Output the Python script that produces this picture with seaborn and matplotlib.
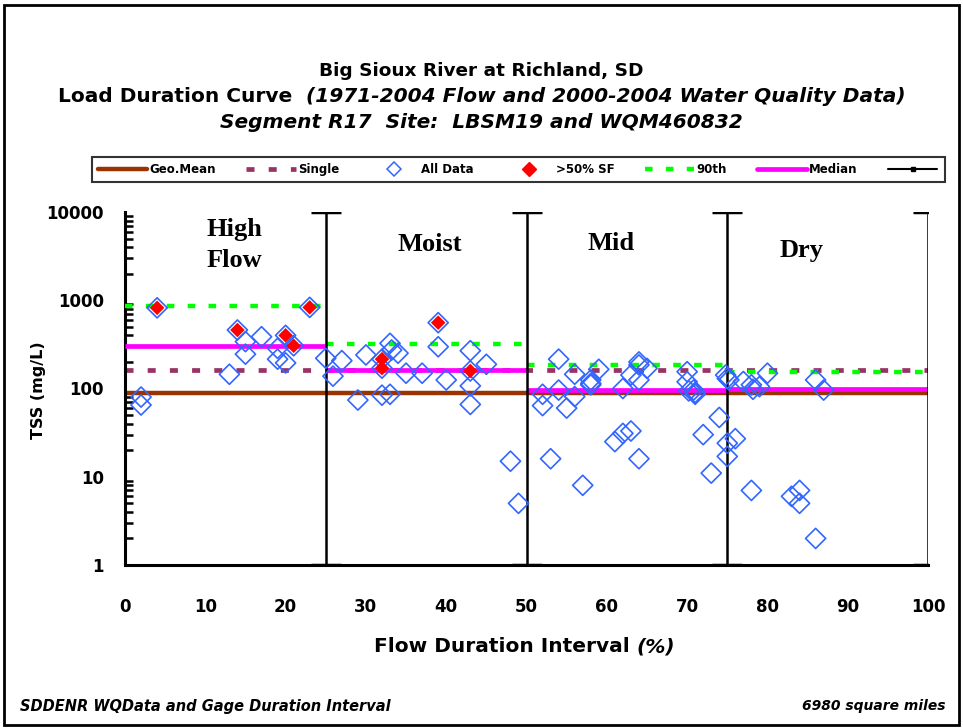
import numpy as np
import pandas as pd
import seaborn as sns
import matplotlib.pyplot as plt
from matplotlib.lines import Line2D
from matplotlib.patches import Rectangle
from matplotlib.ticker import LogLocator, NullFormatter, FixedFormatter, FixedLocator

# --- Data ---
all_x = [2, 2, 4, 13, 14, 15, 15, 17, 19, 19, 20, 20, 21, 23, 25, 25.9, 27, 29, 30,
         32, 32, 32, 33, 33, 33.2, 34, 35, 37, 39, 39, 40, 43, 43, 43, 43, 45, 48, 49,
         52, 52, 53, 54, 54, 55, 56, 56, 57, 58, 58, 58, 59, 61, 62, 62, 63, 63, 64, 64,
         64, 64, 65, 70, 70, 70.2, 70.8, 71, 71, 72, 73, 74, 74.8, 75, 75, 75, 75.2, 76, 77,
         78, 78, 78.2, 79, 80, 83, 84, 84, 86, 86, 87]
all_y = [80, 65, 820, 145, 460, 340, 245, 386, 215, 285, 400, 195, 305, 830, 220, 138, 207, 74, 240,
         215, 170, 84, 325, 86, 273, 251, 149, 149, 557, 297, 125, 268, 158, 107, 66, 188, 15, 5,
         86, 64, 16, 215, 96, 60, 81, 145, 8, 110, 114, 125, 165, 25, 100, 31, 33, 142, 200, 16,
         185, 125, 169, 155, 119, 94, 96, 86, 90, 30, 11, 47, 142, 130, 24, 17, 125, 27, 120,
         7, 110, 98, 105, 149, 6, 7, 5, 2, 125, 96]
sf_x = [4, 14, 20, 21, 23, 32, 32, 39, 43]
sf_y = [820, 460, 400, 305, 830, 215, 170, 557, 158]

edges = [0, 25, 50, 75, 100]
p90 = [860, 318, 185, 153]
median = [300, 162, 95, 99]
geo_mean = 88
single = 162
regimes = ["High\nFlow", "Moist", "Mid", "Dry"]
regime_x = [13.6, 38.0, 60.5, 84.2]
regime_y = [4230, 4230, 4340, 3700]

xticks = [0, 10, 20, 30, 40, 50, 60, 70, 80, 90, 100]
yticks = [1, 10, 100, 1000, 10000]

BROWN = "#993300"
PURPLE = "#993366"
BLUE = "#3366FF"
GREEN = "#00FF00"
MAGENTA = "#FF00FF"

sns.set_style("white")
plt.rcParams["font.family"] = ["DejaVu Sans"]
plt.rcParams["font.weight"] = "bold"
plt.rcParams["text.color"] = "black"
plt.rcParams["axes.labelcolor"] = "black"
plt.rcParams["xtick.color"] = "black"
plt.rcParams["ytick.color"] = "black"

fig = plt.figure(figsize=(9.63, 7.28), dpi=100)
ax = fig.add_axes([0.1298, 0.2239, 0.8339, 0.4849])

df_all = pd.DataFrame({"x": all_x, "y": all_y})
df_sf = pd.DataFrame({"x": sf_x, "y": sf_y})

# horizontal reference lines
ax.hlines(geo_mean, 0, 100, color=BROWN, lw=3.2, zorder=2)
ax.hlines(single, 0, 100, color=PURPLE, lw=3.4, linestyles=(0, (1.7, 3.0)), zorder=2)
ax.hlines(p90, edges[:-1], edges[1:], color=GREEN, lw=3.2, linestyles=(0, (1.7, 3.0)), zorder=3)
ax.hlines(median, edges[:-1], edges[1:], color=MAGENTA, lw=3.4, zorder=3)

# flow regime dividers with caps
ax.errorbar(edges[1:], [100] * 4, yerr=[[99] * 4, [9900] * 4], fmt="none",
            ecolor="black", elinewidth=1.8, capsize=11, capthick=2.5, zorder=4)

sns.scatterplot(data=df_all, x="x", y="y", marker="D", s=105, facecolors="none",
                edgecolor=BLUE, linewidth=1.2, ax=ax, zorder=5)
sns.scatterplot(data=df_sf, x="x", y="y", marker="D", s=55, color="red",
                edgecolor="none", linewidth=0, ax=ax, zorder=6)

for name, rx, ry in zip(regimes, regime_x, regime_y):
    ax.text(rx, ry, name, ha="center", va="center", fontsize=19, fontweight="bold",
            family="Liberation Serif", linespacing=1.4)

ax.set_yscale("log")
ax.set_xlim(0, 100)
ax.set_ylim(1, 10000)
ax.set_xticks(xticks)
ax.set_xticklabels([str(t) for t in xticks])
ax.yaxis.set_major_locator(FixedLocator(yticks))
ax.yaxis.set_major_formatter(FixedFormatter([str(t) for t in yticks]))
ax.yaxis.set_minor_locator(LogLocator(base=10, subs=np.arange(2, 10)))
ax.yaxis.set_minor_formatter(NullFormatter())
ax.set_xlabel("")
ax.set_ylabel("")

for s in ["top", "right"]:
    ax.spines[s].set_visible(False)
for s in ["left", "bottom"]:
    ax.spines[s].set_linewidth(2.2)
    ax.spines[s].set_color("black")

ax.tick_params(axis="x", which="major", direction="inout", length=12, width=2,
               pad=18, labelsize=12, colors="black")
ax.tick_params(axis="y", which="major", direction="inout", length=12, width=2,
               pad=9, labelsize=12, colors="black")
ax.tick_params(axis="y", which="minor", direction="in", length=6, width=1.8, left=True)
for lab in ax.get_xticklabels() + ax.get_yticklabels():
    lab.set_fontweight("bold")


def centered_pieces(pieces, xc, y, size):
    # put text pieces of mixed style side by side, centered at xc
    r = fig.canvas.get_renderer()
    texts = [fig.text(0, y, t, fontsize=size, fontweight="bold", style=st, va="center")
             for t, st in pieces]
    widths = [t.get_window_extent(r).width for t in texts]
    total = sum(widths)
    fw = fig.get_figwidth() * fig.dpi
    x = xc * fw - total / 2
    for t, w in zip(texts, widths):
        t.set_x(x / fw)
        x += w


centered_pieces([("Big Sioux River at Richland, SD", "normal")], 0.5, 1 - 71 / 728, 13.3)
centered_pieces([("Load Duration Curve  ", "normal"),
                 ("(1971-2004 Flow and 2000-2004 Water Quality Data)", "italic")],
                0.5, 1 - 97 / 728, 14.5)
centered_pieces([("Segment R17  Site:  LBSM19 and WQM460832", "italic")], 0.5, 1 - 122 / 728, 14.5)
centered_pieces([("Flow Duration Interval ", "normal"), ("(%)", "italic")],
                0.5447, 1 - 647 / 728, 14.5)

fig.text(0.040, 1 - 390 / 728, "TSS (mg/L)", rotation=90, ha="center", va="center",
         fontsize=11.5, fontweight="bold")
fig.text(20 / 963, 1 - 706 / 728, "SDDENR WQData and Gage Duration Interval",
         ha="left", va="center", fontsize=10.5, fontweight="bold", style="italic")
fig.text(945 / 963, 1 - 706 / 728, "6980 square miles",
         ha="right", va="center", fontsize=10, fontweight="bold", style="italic")

handles = [
    Line2D([], [], color=BROWN, lw=3.2),
    Line2D([], [], color=PURPLE, lw=3.4, ls=(0, (1.7, 3.0))),
    Line2D([], [], ls="none", marker="D", markersize=7, markerfacecolor="none",
           markeredgecolor=BLUE, markeredgewidth=1.1),
    Line2D([], [], ls="none", marker="D", markersize=7, color="red"),
    Line2D([], [], color=GREEN, lw=3.2, ls=(0, (1.7, 3.0))),
    Line2D([], [], color=MAGENTA, lw=3.4),
    Line2D([], [], color="black", lw=1.5, marker="s", markersize=3),
]
labels = ["Geo.Mean", "Single", "All Data", ">50% SF", "90th", "Median", ""]
leg = fig.legend(handles, labels, loc="lower left", ncol=7, mode="expand",
                 bbox_to_anchor=(92 / 963, 1 - 182 / 728, 853 / 963, 24 / 728),
                 frameon=True, fancybox=False, edgecolor="black", fontsize=8.5,
                 handlelength=4.2, handletextpad=0.15, borderaxespad=0, borderpad=0.5,
                 columnspacing=1.0)
leg.get_frame().set_linewidth(1.5)
for t in leg.get_texts():
    t.set_fontweight("bold")

fig.patches.append(Rectangle((0.004, 0.004), 0.992, 0.989, transform=fig.transFigure,
                             fill=False, edgecolor="black", linewidth=2))

fig.savefig("out.png", dpi=100)
